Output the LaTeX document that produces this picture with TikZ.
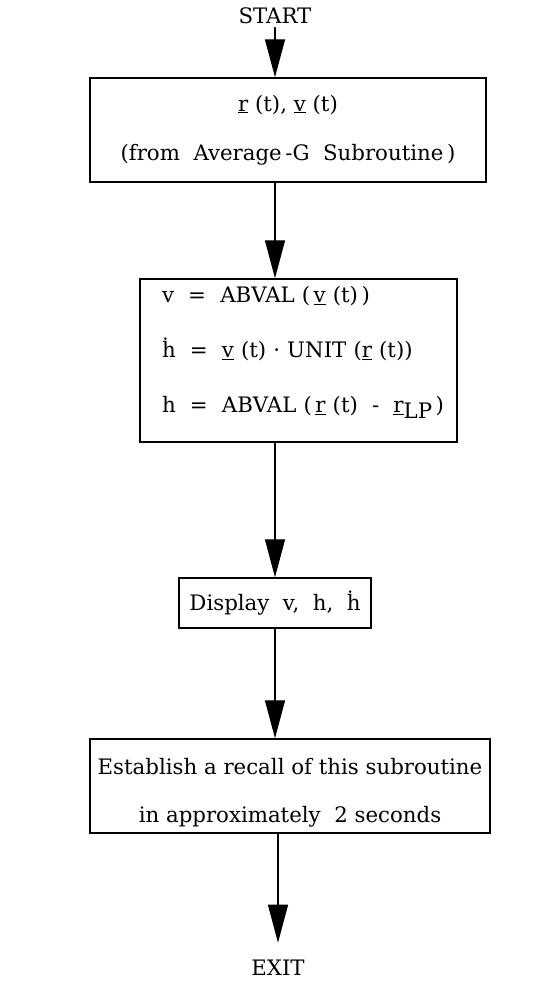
\documentclass[tikz,border=0pt]{standalone}
\usepackage{fontspec}
\setmainfont{DejaVu Serif}
\usetikzlibrary{arrows.meta,positioning}
\newcommand{\vu}[1]{\underline{#1}}
\newcommand{\hdot}{\.{h}}

\begin{document}
\begin{tikzpicture}[x=1pt,y=-1pt,line cap=round,
  txt/.style={font=\fontsize{21.3}{25}\selectfont},
  box/.style={txt,draw,line width=1.4pt,inner sep=0pt,align=center},
  flow/.style={line width=1.3pt,-{Triangle[length=38pt,width=20pt]}}]
\useasboundingbox (0,0) rectangle (556,991);
%% terminals
\node[txt] (start) at (275,16) {START};
\node[txt] (exit) at (278,968) {EXIT};
%% boxes (top to bottom)
\node[box,minimum width=396pt,minimum height=104pt] (rv) at (288,130)
  {\vu{r} (t), \vu{v} (t)\\[24pt](from~ Average\,-G~ Subroutine\,)};
\node[box,align=left,inner xsep=22pt,text width=273pt,minimum height=163pt] (calc) at (298.5,360.5)
  {\mbox{v~ = ~ABVAL (\,\vu{v} (t)\,)}\\[30pt]
   \mbox{\hdot~ = ~\vu{v} (t) · UNIT (\vu{r} (t))}\\[30pt]
   \mbox{h~ = ~ABVAL (\,\vu{r} (t) ~-~ \vu{r}\raisebox{-0.55ex}{LP}\,)\rule[-22pt]{0pt}{0pt}}};
\node[box,minimum width=192pt,minimum height=50pt] (disp) at (275,603)
  {Display~ v,~ h,~ \hdot};
\node[box,minimum width=400pt,minimum height=94pt] (recall) at (290,786)
  {\rule{0pt}{30pt}Establish a recall of this subroutine\\[23pt]in approximately~ 2 seconds};
%% connectors
\draw[flow] (start.south) -- (start.south |- rv.north);
\foreach \a/\b in {rv/calc,calc/disp,disp/recall}
  \draw[flow] (\a.south -| start) -- (\b.north -| start);
\draw[flow,shorten >=14pt] (recall.south -| exit) -- (exit.north);
\end{tikzpicture}
\end{document}
